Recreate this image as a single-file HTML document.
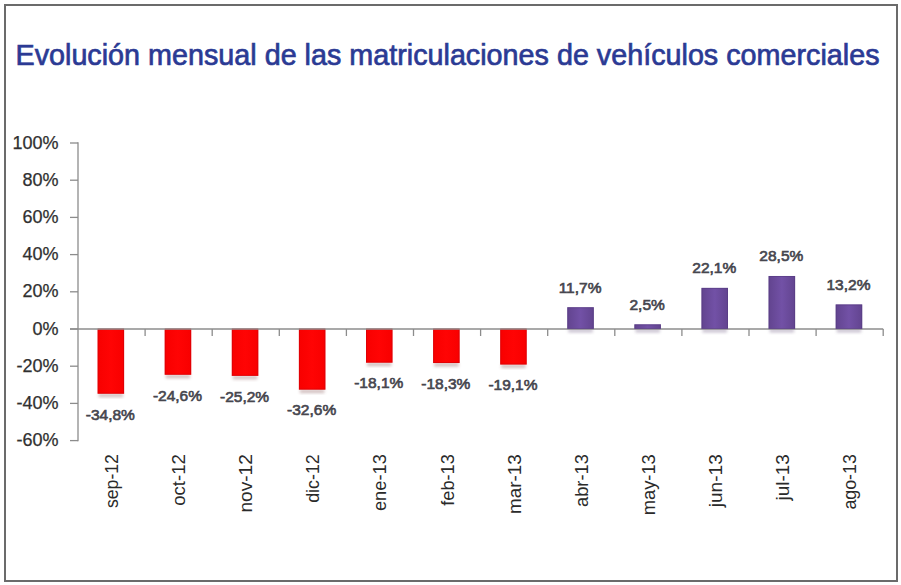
<!DOCTYPE html>
<html><head><meta charset="utf-8">
<style>
html,body{margin:0;padding:0;background:#fff;}
body{width:901px;height:585px;overflow:hidden;position:relative;}
svg{position:absolute;left:0;top:0;}
text{font-family:"Liberation Sans",sans-serif;}
</style></head><body>
<svg width="901" height="585" viewBox="0 0 901 585">
<defs>
<linearGradient id="pg" x1="0" x2="1" y1="0" y2="0">
<stop offset="0" stop-color="#62448f"/>
<stop offset="0.5" stop-color="#7251a6"/>
<stop offset="1" stop-color="#62448f"/>
</linearGradient>
<linearGradient id="rg" x1="0" x2="1" y1="0" y2="0">
<stop offset="0" stop-color="#f80000"/>
<stop offset="0.5" stop-color="#ff0404"/>
<stop offset="1" stop-color="#f80000"/>
</linearGradient>
</defs>
<rect x="5" y="5" width="892" height="576" fill="#fff" stroke="#6b6b6b" stroke-width="2"/>
<text x="15.5" y="64.7" font-size="29.5" fill="#2b3a94" stroke="#2b3a94" stroke-width="0.7" textLength="864" lengthAdjust="spacingAndGlyphs">Evolución mensual de las matriculaciones de vehículos comerciales</text>
<g stroke="#8c8c8c" stroke-width="1.3" fill="none"><line x1="78.0" y1="142.35" x2="78.0" y2="441.25"/><line x1="70" y1="440.6" x2="78.0" y2="440.6"/><line x1="70" y1="403.4" x2="78.0" y2="403.4"/><line x1="70" y1="366.2" x2="78.0" y2="366.2"/><line x1="70" y1="329.0" x2="78.0" y2="329.0"/><line x1="70" y1="291.8" x2="78.0" y2="291.8"/><line x1="70" y1="254.6" x2="78.0" y2="254.6"/><line x1="70" y1="217.4" x2="78.0" y2="217.4"/><line x1="70" y1="180.2" x2="78.0" y2="180.2"/><line x1="70" y1="143.0" x2="78.0" y2="143.0"/></g>
<text x="58.5" y="446.2" font-size="18" fill="#303030" stroke="#303030" stroke-width="0.25" text-anchor="end">-60%</text><text x="58.5" y="409.0" font-size="18" fill="#303030" stroke="#303030" stroke-width="0.25" text-anchor="end">-40%</text><text x="58.5" y="371.8" font-size="18" fill="#303030" stroke="#303030" stroke-width="0.25" text-anchor="end">-20%</text><text x="58.5" y="334.6" font-size="18" fill="#303030" stroke="#303030" stroke-width="0.25" text-anchor="end">0%</text><text x="58.5" y="297.4" font-size="18" fill="#303030" stroke="#303030" stroke-width="0.25" text-anchor="end">20%</text><text x="58.5" y="260.2" font-size="18" fill="#303030" stroke="#303030" stroke-width="0.25" text-anchor="end">40%</text><text x="58.5" y="223.0" font-size="18" fill="#303030" stroke="#303030" stroke-width="0.25" text-anchor="end">60%</text><text x="58.5" y="185.8" font-size="18" fill="#303030" stroke="#303030" stroke-width="0.25" text-anchor="end">80%</text><text x="58.5" y="148.6" font-size="18" fill="#303030" stroke="#303030" stroke-width="0.25" text-anchor="end">100%</text>
<filter id="sh" x="-50%" y="-50%" width="200%" height="200%"><feGaussianBlur stdDeviation="1.6"/></filter><rect x="98.60" y="393.73" width="24.50" height="3.5" fill="#9a7070" opacity="0.45" filter="url(#sh)"/><rect x="97.60" y="329.00" width="26.50" height="64.73" fill="url(#rg)"/><rect x="98.10" y="328.50" width="25.50" height="64.73" fill="none" stroke="#c0000c" stroke-opacity="0.45" stroke-width="1"/><rect x="165.70" y="374.76" width="24.50" height="3.5" fill="#9a7070" opacity="0.45" filter="url(#sh)"/><rect x="164.70" y="329.00" width="26.50" height="45.76" fill="url(#rg)"/><rect x="165.20" y="328.50" width="25.50" height="45.76" fill="none" stroke="#c0000c" stroke-opacity="0.45" stroke-width="1"/><rect x="232.80" y="375.87" width="24.50" height="3.5" fill="#9a7070" opacity="0.45" filter="url(#sh)"/><rect x="231.80" y="329.00" width="26.50" height="46.87" fill="url(#rg)"/><rect x="232.30" y="328.50" width="25.50" height="46.87" fill="none" stroke="#c0000c" stroke-opacity="0.45" stroke-width="1"/><rect x="299.90" y="389.64" width="24.50" height="3.5" fill="#9a7070" opacity="0.45" filter="url(#sh)"/><rect x="298.90" y="329.00" width="26.50" height="60.64" fill="url(#rg)"/><rect x="299.40" y="328.50" width="25.50" height="60.64" fill="none" stroke="#c0000c" stroke-opacity="0.45" stroke-width="1"/><rect x="367.00" y="362.67" width="24.50" height="3.5" fill="#9a7070" opacity="0.45" filter="url(#sh)"/><rect x="366.00" y="329.00" width="26.50" height="33.67" fill="url(#rg)"/><rect x="366.50" y="328.50" width="25.50" height="33.67" fill="none" stroke="#c0000c" stroke-opacity="0.45" stroke-width="1"/><rect x="434.10" y="363.04" width="24.50" height="3.5" fill="#9a7070" opacity="0.45" filter="url(#sh)"/><rect x="433.10" y="329.00" width="26.50" height="34.04" fill="url(#rg)"/><rect x="433.60" y="328.50" width="25.50" height="34.04" fill="none" stroke="#c0000c" stroke-opacity="0.45" stroke-width="1"/><rect x="501.20" y="364.53" width="24.50" height="3.5" fill="#9a7070" opacity="0.45" filter="url(#sh)"/><rect x="500.20" y="329.00" width="26.50" height="35.53" fill="url(#rg)"/><rect x="500.70" y="328.50" width="25.50" height="35.53" fill="none" stroke="#c0000c" stroke-opacity="0.45" stroke-width="1"/><rect x="568.30" y="329.00" width="24.50" height="3.5" fill="#8a7a9a" opacity="0.45" filter="url(#sh)"/><rect x="635.40" y="329.00" width="24.50" height="3.5" fill="#8a7a9a" opacity="0.45" filter="url(#sh)"/><rect x="702.50" y="329.00" width="24.50" height="3.5" fill="#8a7a9a" opacity="0.45" filter="url(#sh)"/><rect x="769.60" y="329.00" width="24.50" height="3.5" fill="#8a7a9a" opacity="0.45" filter="url(#sh)"/><rect x="836.70" y="329.00" width="24.50" height="3.5" fill="#8a7a9a" opacity="0.45" filter="url(#sh)"/>
<g stroke="#8c8c8c" stroke-width="1.3" fill="none"><line x1="70" y1="329.0" x2="883.2" y2="329.0"/><line x1="145.1" y1="329.0" x2="145.1" y2="336.0"/><line x1="212.2" y1="329.0" x2="212.2" y2="336.0"/><line x1="279.3" y1="329.0" x2="279.3" y2="336.0"/><line x1="346.4" y1="329.0" x2="346.4" y2="336.0"/><line x1="413.5" y1="329.0" x2="413.5" y2="336.0"/><line x1="480.6" y1="329.0" x2="480.6" y2="336.0"/><line x1="547.7" y1="329.0" x2="547.7" y2="336.0"/><line x1="614.8" y1="329.0" x2="614.8" y2="336.0"/><line x1="681.9" y1="329.0" x2="681.9" y2="336.0"/><line x1="749.0" y1="329.0" x2="749.0" y2="336.0"/><line x1="816.1" y1="329.0" x2="816.1" y2="336.0"/><line x1="883.2" y1="329.0" x2="883.2" y2="336.0"/></g>
<rect x="567.30" y="307.24" width="26.50" height="21.56" fill="url(#pg)"/><rect x="567.80" y="307.74" width="25.50" height="20.86" fill="none" stroke="#553a80" stroke-opacity="0.6" stroke-width="1"/><rect x="634.40" y="324.35" width="26.50" height="4.45" fill="url(#pg)"/><rect x="634.90" y="324.85" width="25.50" height="3.75" fill="none" stroke="#553a80" stroke-opacity="0.6" stroke-width="1"/><rect x="701.50" y="287.89" width="26.50" height="40.91" fill="url(#pg)"/><rect x="702.00" y="288.39" width="25.50" height="40.21" fill="none" stroke="#553a80" stroke-opacity="0.6" stroke-width="1"/><rect x="768.60" y="275.99" width="26.50" height="52.81" fill="url(#pg)"/><rect x="769.10" y="276.49" width="25.50" height="52.11" fill="none" stroke="#553a80" stroke-opacity="0.6" stroke-width="1"/><rect x="835.70" y="304.45" width="26.50" height="24.35" fill="url(#pg)"/><rect x="836.20" y="304.95" width="25.50" height="23.65" fill="none" stroke="#553a80" stroke-opacity="0.6" stroke-width="1"/><text x="110.35" y="419.53" font-size="15.5" fill="#46464e" stroke="#46464e" stroke-width="0.65" text-anchor="middle">-34,8%</text><text x="177.45" y="400.56" font-size="15.5" fill="#46464e" stroke="#46464e" stroke-width="0.65" text-anchor="middle">-24,6%</text><text x="244.55" y="401.67" font-size="15.5" fill="#46464e" stroke="#46464e" stroke-width="0.65" text-anchor="middle">-25,2%</text><text x="311.65" y="415.44" font-size="15.5" fill="#46464e" stroke="#46464e" stroke-width="0.65" text-anchor="middle">-32,6%</text><text x="378.75" y="388.47" font-size="15.5" fill="#46464e" stroke="#46464e" stroke-width="0.65" text-anchor="middle">-18,1%</text><text x="445.85" y="388.84" font-size="15.5" fill="#46464e" stroke="#46464e" stroke-width="0.65" text-anchor="middle">-18,3%</text><text x="512.95" y="390.33" font-size="15.5" fill="#46464e" stroke="#46464e" stroke-width="0.65" text-anchor="middle">-19,1%</text><text x="580.05" y="292.64" font-size="15.5" fill="#46464e" stroke="#46464e" stroke-width="0.65" text-anchor="middle">11,7%</text><text x="647.15" y="309.75" font-size="15.5" fill="#46464e" stroke="#46464e" stroke-width="0.65" text-anchor="middle">2,5%</text><text x="714.25" y="273.29" font-size="15.5" fill="#46464e" stroke="#46464e" stroke-width="0.65" text-anchor="middle">22,1%</text><text x="781.35" y="261.39" font-size="15.5" fill="#46464e" stroke="#46464e" stroke-width="0.65" text-anchor="middle">28,5%</text><text x="848.45" y="289.85" font-size="15.5" fill="#46464e" stroke="#46464e" stroke-width="0.65" text-anchor="middle">13,2%</text>
<text transform="translate(118.05,454.2) rotate(-90)" x="0" y="0" font-size="18" fill="#2a2a2a" text-anchor="end" textLength="53.75" lengthAdjust="spacingAndGlyphs">sep-12</text><text transform="translate(185.15,454.2) rotate(-90)" x="0" y="0" font-size="18" fill="#2a2a2a" text-anchor="end" textLength="51.53" lengthAdjust="spacingAndGlyphs">oct-12</text><text transform="translate(252.25,454.2) rotate(-90)" x="0" y="0" font-size="18" fill="#2a2a2a" text-anchor="end" textLength="58.35" lengthAdjust="spacingAndGlyphs">nov-12</text><text transform="translate(319.35,454.2) rotate(-90)" x="0" y="0" font-size="18" fill="#2a2a2a" text-anchor="end" textLength="48.63" lengthAdjust="spacingAndGlyphs">dic-12</text><text transform="translate(386.45,454.2) rotate(-90)" x="0" y="0" font-size="18" fill="#2a2a2a" text-anchor="end" textLength="56.86" lengthAdjust="spacingAndGlyphs">ene-13</text><text transform="translate(453.55,454.2) rotate(-90)" x="0" y="0" font-size="18" fill="#2a2a2a" text-anchor="end" textLength="51.55" lengthAdjust="spacingAndGlyphs">feb-13</text><text transform="translate(520.65,454.2) rotate(-90)" x="0" y="0" font-size="18" fill="#2a2a2a" text-anchor="end" textLength="59.82" lengthAdjust="spacingAndGlyphs">mar-13</text><text transform="translate(587.75,454.2) rotate(-90)" x="0" y="0" font-size="18" fill="#2a2a2a" text-anchor="end" textLength="52.83" lengthAdjust="spacingAndGlyphs">abr-13</text><text transform="translate(654.85,454.2) rotate(-90)" x="0" y="0" font-size="18" fill="#2a2a2a" text-anchor="end" textLength="61.13" lengthAdjust="spacingAndGlyphs">may-13</text><text transform="translate(721.95,454.2) rotate(-90)" x="0" y="0" font-size="18" fill="#2a2a2a" text-anchor="end" textLength="53.05" lengthAdjust="spacingAndGlyphs">jun-13</text><text transform="translate(789.05,454.2) rotate(-90)" x="0" y="0" font-size="18" fill="#2a2a2a" text-anchor="end" textLength="46.33" lengthAdjust="spacingAndGlyphs">jul-13</text><text transform="translate(856.15,454.2) rotate(-90)" x="0" y="0" font-size="18" fill="#2a2a2a" text-anchor="end" textLength="55.36" lengthAdjust="spacingAndGlyphs">ago-13</text>
</svg>
</body></html>
